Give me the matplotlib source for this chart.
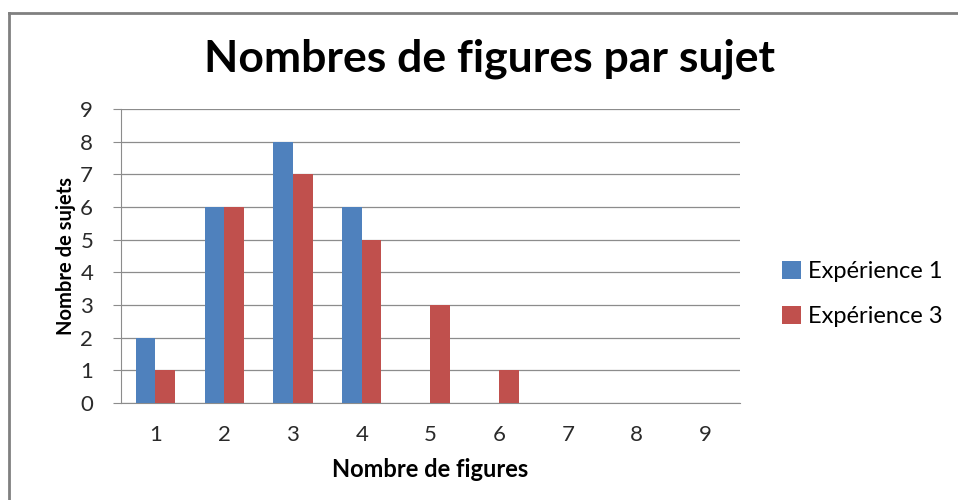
import matplotlib
matplotlib.use("Agg")
import matplotlib.pyplot as plt
from matplotlib.lines import Line2D
import numpy as np

categories = ["1", "2", "3", "4", "5", "6", "7", "8", "9"]
exp1 = [2, 6, 8, 6, 0, 0, 0, 0, 0]
exp3 = [1, 6, 7, 5, 3, 1, 0, 0, 0]
series_names = ["Expérience 1", "Expérience 3"]
yticks = [0, 1, 2, 3, 4, 5, 6, 7, 8, 9]

plt.rcParams['font.family'] = ['Lato', 'DejaVu Sans']

fig = plt.figure(figsize=(9.58, 5.0), dpi=100)
ax = fig.add_axes([121/958, 1-403/500, (740-121)/958, (403-109)/500])

x = np.arange(len(categories))
w = 1/3.5
c1 = "#4F81BD"
c3 = "#C0504D"
ax.bar(x - w/2, exp1, width=w, color=c1, label=series_names[0], zorder=3)
ax.bar(x + w/2, exp3, width=w, color=c3, label=series_names[1], zorder=3)

ax.set_xlim(-0.5, len(categories) - 0.5)
ax.set_ylim(0, 9)
ax.set_yticks(yticks)
ax.set_xticks(x)
ax.set_xticklabels(categories)
ax.yaxis.grid(True, color="#8C8C8C", linewidth=0.9, zorder=0)
for s in ["top", "right"]:
    ax.spines[s].set_visible(False)
ax.spines["left"].set_color("#8C8C8C")
ax.spines["bottom"].set_color("#8C8C8C")
ax.tick_params(axis="y", length=6, color="#8C8C8C", labelsize=16, labelcolor="#2a2a2a", pad=14)
ax.tick_params(axis="x", length=0, labelsize=16, labelcolor="#2a2a2a", pad=16)

ax.set_ylabel("Nombre de sujets", fontsize=14.5, fontweight="bold", labelpad=3)
ax.set_xlabel("Nombre de figures", fontsize=17, fontweight="bold", labelpad=9)

fig.text(490/958, 1-59/500, "Nombres de figures par sujet", fontsize=32, fontweight="bold",
         ha="center", va="center")

ax.legend(loc="center left", bbox_to_anchor=(782/958, 1-294/500), bbox_transform=fig.transFigure,
          frameon=False, fontsize=17, handlelength=0.8, handleheight=0.8,
          labelspacing=1.0, borderaxespad=0.0, handletextpad=0.3,
          borderpad=0.0)

fig.add_artist(Line2D([9/958, 1], [1-13/500, 1-13/500], transform=fig.transFigure,
                      color="#808080", linewidth=2))
fig.add_artist(Line2D([9/958, 9/958], [0, 1-13/500], transform=fig.transFigure,
                      color="#808080", linewidth=2))

fig.savefig("out.png", dpi=100)
